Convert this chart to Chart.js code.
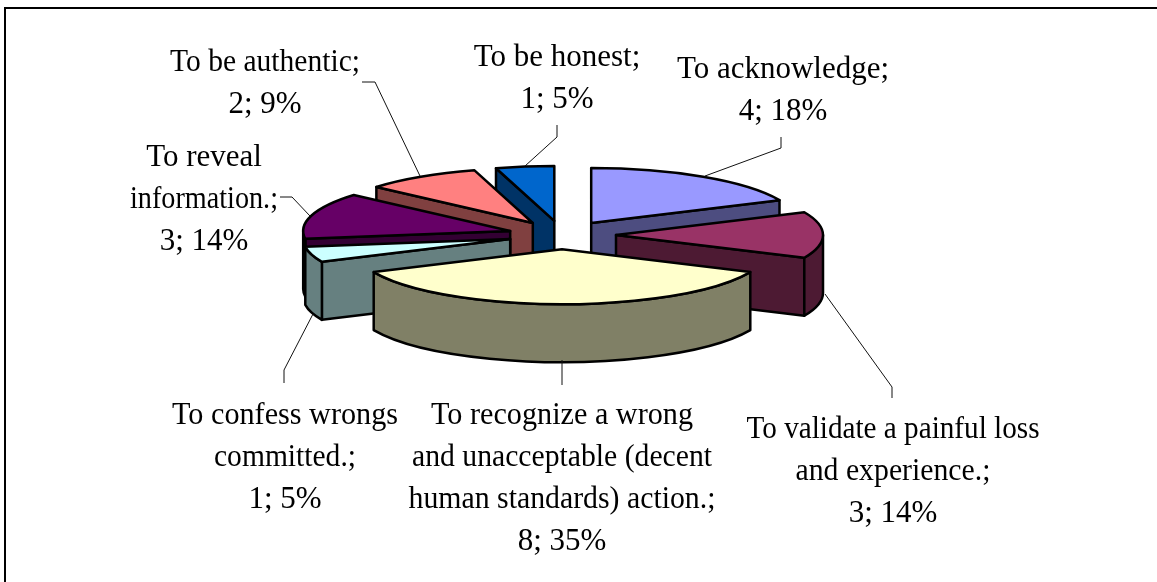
<!DOCTYPE html>
<html>
<head>
<meta charset="utf-8">
<style>
html, body { margin: 0; padding: 0; background: #fff; }
#wrap { position: relative; width: 1157px; height: 582px; }
</style>
<script src="https://cdn.jsdelivr.net/npm/chart.js@4/dist/chart.umd.min.js"></script>
</head>
<body>
<div id="wrap"><canvas id="myChart" width="1157" height="582"></canvas></div>
<script>
var categories = [
    "To acknowledge",
    "To validate a painful loss and experience.",
    "To recognize a wrong and unacceptable (decent human standards) action.",
    "To confess wrongs committed.",
    "To reveal information.",
    "To be authentic",
    "To be honest"
];
var values = [4, 3, 8, 1, 3, 2, 1];
var percents = ["18%", "14%", "35%", "5%", "14%", "9%", "5%"];
var topColors = ["#9999ff", "#993366", "#ffffcc", "#ccffff", "#660066", "#ff8080", "#0066cc"];
var sideColors = ["#4d4d80", "#4d1a33", "#808066", "#668080", "#330033", "#804040", "#003366"];

// label text is wrapped by hand, same as the picture
var labelLines = [
    ["To acknowledge;", "4; 18%"],
    ["To validate a painful loss", "and experience.;", "3; 14%"],
    ["To recognize a wrong", "and unacceptable (decent", "human standards) action.;", "8; 35%"],
    ["To confess wrongs", "committed.;", "1; 5%"],
    ["To reveal", "information.;", "3; 14%"],
    ["To be authentic;", "2; 9%"],
    ["To be honest;", "1; 5%"]
];
var labelCenters = [[783, 68], [893, 428], [562, 414], [285, 414], [204, 156], [265, 61], [557, 56]];
// the picture's text runs tighter on some lines
var lineWidths = {
    "To validate a painful loss": 293,
    "and experience.;": 195,
    "To recognize a wrong": 262,
    "and unacceptable (decent": 300,
    "human standards) action.;": 307,
    "To confess wrongs": 226,
    "committed.;": 142,
    "information.;": 148,
    "To be authentic;": 190
};
var leaderLines = [
    [[705, 176], [781, 148], [781, 137]],
    [[825, 294], [892, 387], [892, 398]],
    [[562, 360], [562, 385]],
    [[313, 314], [284, 370], [284, 383]],
    [[310, 216], [292, 197], [280, 197]],
    [[420, 176], [375, 82], [362, 82]],
    [[525, 166], [557, 137], [557, 125]]
];

var flat = 0.265;   // how much the circle is squashed
var depth = 58;     // height of the pie
var explode = 54;

function rimPath(c, x, y, r, a0, a1) {
    c.ellipse(x, y, r, r * flat, 0, a0, a1, false);
}

function drawSlice(c, arc, i) {
    var mid = (arc.startAngle + arc.endAngle) / 2;
    var x = arc.x + Math.cos(mid) * explode;
    var y = arc.y + Math.sin(mid) * explode * flat;
    var r = arc.outerRadius;
    var a0 = arc.startAngle, a1 = arc.endAngle;
    var x0 = x + Math.cos(a0) * r, y0 = y + Math.sin(a0) * r * flat;
    var x1 = x + Math.cos(a1) * r, y1 = y + Math.sin(a1) * r * flat;

    c.lineWidth = 2.5;
    c.lineJoin = "round";
    c.strokeStyle = "#000";
    c.fillStyle = sideColors[i];

    function wall(px, py) {
        c.beginPath();
        c.moveTo(x, y);
        c.lineTo(px, py);
        c.lineTo(px, py + depth);
        c.lineTo(x, y + depth);
        c.closePath();
        c.fill();
        c.stroke();
    }
    // the radial side you can see depends on which way it faces
    if (Math.cos(a1) > 0) wall(x1, y1);
    if (Math.cos(a0) < 0) wall(x0, y0);

    // curved rim, only the part on the near half (canvas angles 0..PI)
    var twoPi = Math.PI * 2;
    var segs = [[a0, a1], [a0 - twoPi, a1 - twoPi]];
    segs.forEach(function(s) {
        var from = Math.max(s[0], 0), to = Math.min(s[1], Math.PI);
        if (to <= from) return;
        c.beginPath();
        rimPath(c, x, y, r, from, to);
        c.lineTo(x + Math.cos(to) * r, y + Math.sin(to) * r * flat + depth);
        c.ellipse(x, y + depth, r, r * flat, 0, to, from, true);
        c.closePath();
        c.fill();
        c.stroke();
    });

    c.fillStyle = topColors[i];
    c.beginPath();
    c.moveTo(x, y);
    rimPath(c, x, y, r, a0, a1);
    c.closePath();
    c.fill();
    c.stroke();
}

var pie3d = {
    id: "pie3d",
    beforeDatasetsDraw: function(chart) {
        var c = chart.ctx;
        var arcs = chart.getDatasetMeta(0).data;
        var order = arcs.map(function(a, i) { return i; });
        // back to front
        order.sort(function(p, q) {
            return Math.sin((arcs[p].startAngle + arcs[p].endAngle) / 2) - Math.sin((arcs[q].startAngle + arcs[q].endAngle) / 2);
        });
        c.save();
        order.forEach(function(i) { drawSlice(c, arcs[i], i); });
        c.restore();
        return false;
    },
    afterDraw: function(chart) {
        var c = chart.ctx;
        c.save();
        // frame, open at the bottom and right like the scan
        c.strokeStyle = "#000";
        c.lineWidth = 2;
        c.beginPath();
        c.moveTo(5, 582);
        c.lineTo(5, 8);
        c.lineTo(1157, 8);
        c.stroke();

        c.strokeStyle = "#111";
        c.lineWidth = 1;
        leaderLines.forEach(function(pts) {
            c.beginPath();
            pts.forEach(function(p, k) {
                if (k === 0) c.moveTo(p[0], p[1]); else c.lineTo(p[0], p[1]);
            });
            c.stroke();
        });

        c.fillStyle = "#000";
        c.font = '31px "Liberation Serif"';
        c.textAlign = "center";
        c.textBaseline = "middle";
        labelLines.forEach(function(lines, i) {
            lines.forEach(function(t, k) {
                var yy = labelCenters[i][1] + 2 + k * 42;
                if (lineWidths[t]) c.fillText(t, labelCenters[i][0], yy, lineWidths[t]);
                else c.fillText(t, labelCenters[i][0], yy);
            });
        });
        c.restore();
    }
};

var ctx = document.getElementById("myChart").getContext("2d");
var myChart = new Chart(ctx, {
    type: "pie",
    data: {
        labels: categories,
        datasets: [{
            data: values,
            backgroundColor: topColors
        }]
    },
    options: {
        responsive: false,
        animation: false,
        events: [],
        radius: 207,
        layout: { padding: { right: 33, bottom: 112 } },
        plugins: { legend: { display: false }, tooltip: { enabled: false } }
    },
    plugins: [pie3d]
});
</script>
</body>
</html>
